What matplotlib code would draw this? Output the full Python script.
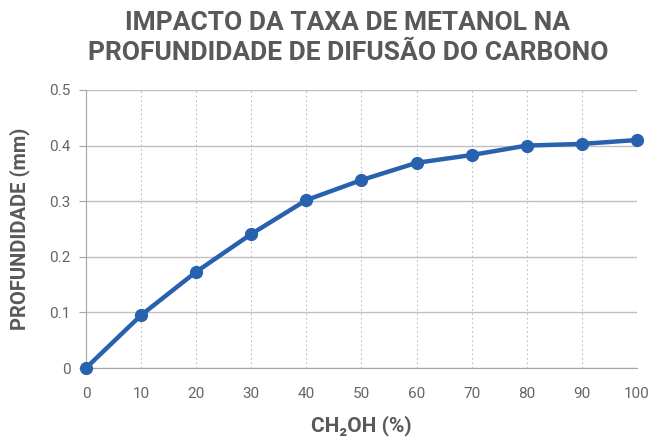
import matplotlib
matplotlib.use('Agg')
import matplotlib.pyplot as plt

# metanol (%) vs profundidade (mm)
metanol = [0, 10, 20, 30, 40, 50, 60, 70, 80, 90, 100]
profundidade = [0.0, 0.095, 0.173, 0.241, 0.302, 0.338, 0.369, 0.383, 0.400, 0.403, 0.410]
y_ticks = [0, 0.1, 0.2, 0.3, 0.4, 0.5]
y_labels = ['0', '0.1', '0.2', '0.3', '0.4', '0.5']
title_lines = ['IMPACTO DA TAXA DE METANOL NA', 'PROFUNDIDADE DE DIFUSÃO DO CARBONO']

FONT = ['Roboto', 'DejaVu Sans']
GRAY = '#595959'
BLUE = '#2861ae'


def main():
    plt.rcParams['font.family'] = FONT
    fig = plt.figure(figsize=(6.54, 4.41), dpi=100)
    ax = fig.add_axes([0.1315, 0.1655, 0.8425, 0.6305])

    ax.plot(metanol, profundidade, color=BLUE, lw=3.2, marker='o', ms=8.5, zorder=3, clip_on=False)

    ax.set_xlim(0, 100)
    ax.set_ylim(0, 0.5)
    ax.set_xticks(metanol)
    ax.set_yticks(y_ticks)
    ax.set_yticklabels(y_labels)

    ax.grid(axis='y', color='#bfbfbf', lw=1.0, ls='-')
    ax.grid(axis='x', color='#bfbfbf', lw=0.8, ls=(0, (1.5, 2.5)))
    ax.set_axisbelow(True)

    for s in ['top', 'right']:
        ax.spines[s].set_visible(False)
    ax.spines['left'].set_color('#a6a6a6')
    ax.spines['bottom'].set_color('#a6a6a6')
    ax.tick_params(axis='y', length=5, color='#a6a6a6', labelsize=11, labelcolor='#666666', pad=6)
    ax.tick_params(axis='x', length=0, labelsize=11, labelcolor='#666666', pad=14)

    ax.set_xlabel('CH₂OH (%)', fontsize=15, fontweight='bold', color=GRAY, labelpad=10)
    ax.set_ylabel('PROFUNDIDADE (mm)', fontsize=14.5, fontweight='bold', color=GRAY, labelpad=14)

    fig.text(0.532, 1 - 23 / 441, title_lines[0], ha='center', va='center',
             fontsize=19, fontweight='bold', color=GRAY)
    fig.text(0.532, 1 - 53 / 441, title_lines[1], ha='center', va='center',
             fontsize=19, fontweight='bold', color=GRAY)

    fig.savefig('out.png', dpi=100)


if __name__ == '__main__':
    main()
